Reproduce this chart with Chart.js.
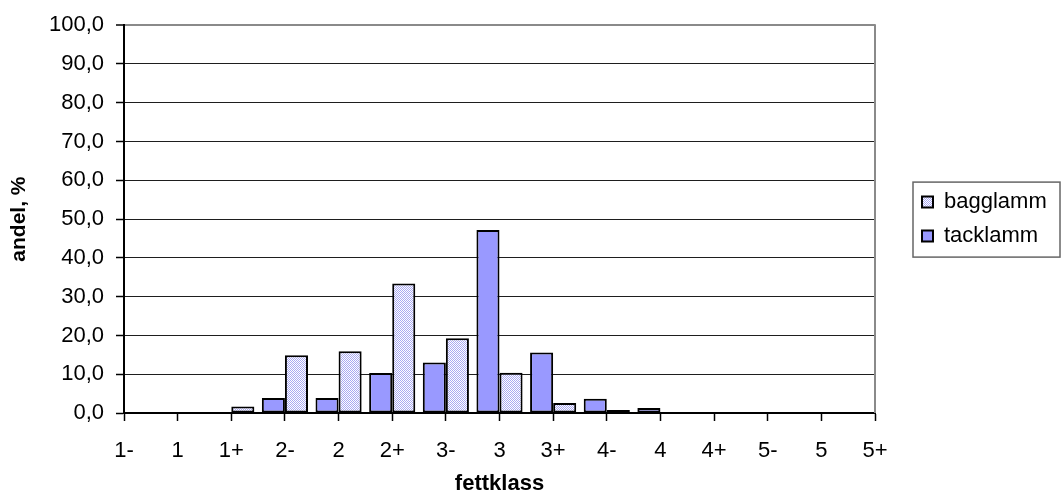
<!DOCTYPE html>
<html>
<head>
<meta charset="utf-8">
<script src="https://cdn.jsdelivr.net/npm/chart.js@4/dist/chart.umd.min.js"></script>
<style>
  html, body { margin: 0; padding: 0; background: #ffffff; }
  #wrap { width: 1061px; height: 502px; }
</style>
</head>
<body>
<div id="wrap"><canvas id="chart" width="1061" height="502"></canvas></div>
<script>
// Fat class categories (x axis)
const fettklass = ['1-', '1', '1+', '2-', '2', '2+', '3-', '3', '3+', '4-', '4', '4+', '5-', '5', '5+'];
// Share of lambs per fat class, %
const tacklamm = [0, 0, 0, 3.9, 3.9, 10.3, 13.0, 47.2, 15.6, 3.7, 1.3, 0, 0, 0, 0];
const bagglamm = [0, 0, 1.7, 14.9, 15.9, 33.4, 19.3, 10.4, 2.6, 0.8, 0, 0, 0, 0, 0];
// Value axis range
const yMin = 0;
const yMax = 100;
const yStep = 10;

const FONT = '"Liberation Sans", Arial, Helvetica, sans-serif';
Chart.defaults.font.family = FONT;
Chart.defaults.font.size = 22;
Chart.defaults.color = '#000000';

// Fine dotted fill used for the bagglamm bars
function dotPattern() {
  const c = document.createElement('canvas');
  c.width = 2; c.height = 2;
  const g = c.getContext('2d');
  g.fillStyle = '#ffffff';
  g.fillRect(0, 0, 2, 2);
  g.fillStyle = '#a9a9f2';
  g.fillRect(0, 0, 1, 1);
  g.fillRect(1, 1, 1, 1);
  return g.createPattern(c, 'repeat');
}

const LEGEND_WIDTH = 186;      // space reserved right of the plot
const LEGEND_INSET = 47;       // swatch offset from the plot's right edge

// Places the legend block and draws its frame plus the plot's right border
const frameAndLegend = {
  id: 'frameAndLegend',
  afterInit(chart) {
    const lg = chart.legend;
    const fit = lg.fit;
    lg.fit = function () { fit.call(this); this.width = LEGEND_WIDTH; };
  },
  afterLayout(chart) {
    const lg = chart.legend;
    const dx = chart.chartArea.right + LEGEND_INSET - (lg.left + lg.options.labels.padding);
    lg.left += dx;
    lg.right += dx;
  },
  afterDraw(chart) {
    const {ctx, chartArea} = chart;
    const lg = chart.legend;
    ctx.save();
    // right border of the plot area
    ctx.strokeStyle = '#8a8a8a';
    ctx.lineWidth = 2;
    ctx.beginPath();
    ctx.moveTo(chartArea.right, chartArea.top - 1);
    ctx.lineTo(chartArea.right, chartArea.bottom);
    ctx.stroke();
    // legend frame
    const cy = (lg.top + lg.bottom) / 2;
    const x0 = lg.left + lg.options.labels.padding - 9;
    ctx.strokeStyle = '#666666';
    ctx.lineWidth = 1.5;
    ctx.strokeRect(x0, cy - 37, chart.width - 1 - x0, 75);
    ctx.restore();
  }
};

const pattern = dotPattern();

new Chart(document.getElementById('chart'), {
  type: 'bar',
  data: {
    labels: fettklass,
    datasets: [
      {
        label: 'tacklamm',
        data: tacklamm,
        backgroundColor: '#9999ff',
        borderColor: '#000000',
        borderWidth: 2,
        borderSkipped: false
      },
      {
        label: 'bagglamm',
        data: bagglamm,
        backgroundColor: pattern,
        borderColor: '#000000',
        borderWidth: 2,
        borderSkipped: false
      }
    ]
  },
  options: {
    responsive: false,
    animation: false,
    devicePixelRatio: 1,
    categoryPercentage: 0.86,
    barPercentage: 1.0,
    layout: { padding: { top: 25, right: 0, bottom: 0, left: 0 } },
    scales: {
      x: {
        type: 'category',
        offset: false,
        grid: {
          offset: false,
          drawOnChartArea: false,
          drawTicks: true,
          tickLength: 8,
          tickColor: '#000000',
          tickWidth: 1.5
        },
        border: { color: '#000000', width: 2 },
        ticks: { autoSkip: false, maxRotation: 0, minRotation: 0, padding: 17, color: '#000000' },
        title: {
          display: true,
          text: 'fettklass',
          color: '#000000',
          font: { size: 22, weight: 'bold' },
          padding: { top: 0, bottom: 5 }
        },
        afterFit(scale) { scale.height = 89; }
      },
      y: {
        min: yMin,
        max: yMax,
        ticks: {
          stepSize: yStep,
          padding: 12,
          color: '#000000',
          callback: (v) => Number(v).toFixed(1).replace('.', ',')
        },
        grid: {
          color: (ctx) => (ctx.tick && ctx.tick.value === yMax ? '#8a8a8a' : '#1e1e1e'),
          lineWidth: (ctx) => (ctx.tick && ctx.tick.value === yMax ? 2 : 1),
          drawTicks: true,
          tickLength: 8,
          tickColor: '#000000',
          tickWidth: 1.5
        },
        border: { color: '#000000', width: 2 },
        title: {
          display: true,
          text: 'andel, %',
          color: '#000000',
          font: { size: 21, weight: 'bold' },
          padding: { top: 7, bottom: 0 }
        },
        afterFit(scale) { scale.width = 124; }
      }
    },
    plugins: {
      legend: {
        position: 'right',
        align: 'center',
        fullSize: false,
        reverse: true,
        labels: {
          boxWidth: 11,
          boxHeight: 11,
          padding: 12,
          color: '#000000',
          font: { size: 22 }
        }
      },
      tooltip: { enabled: false },
      title: { display: false }
    }
  },
  plugins: [frameAndLegend]
});
</script>
</body>
</html>
